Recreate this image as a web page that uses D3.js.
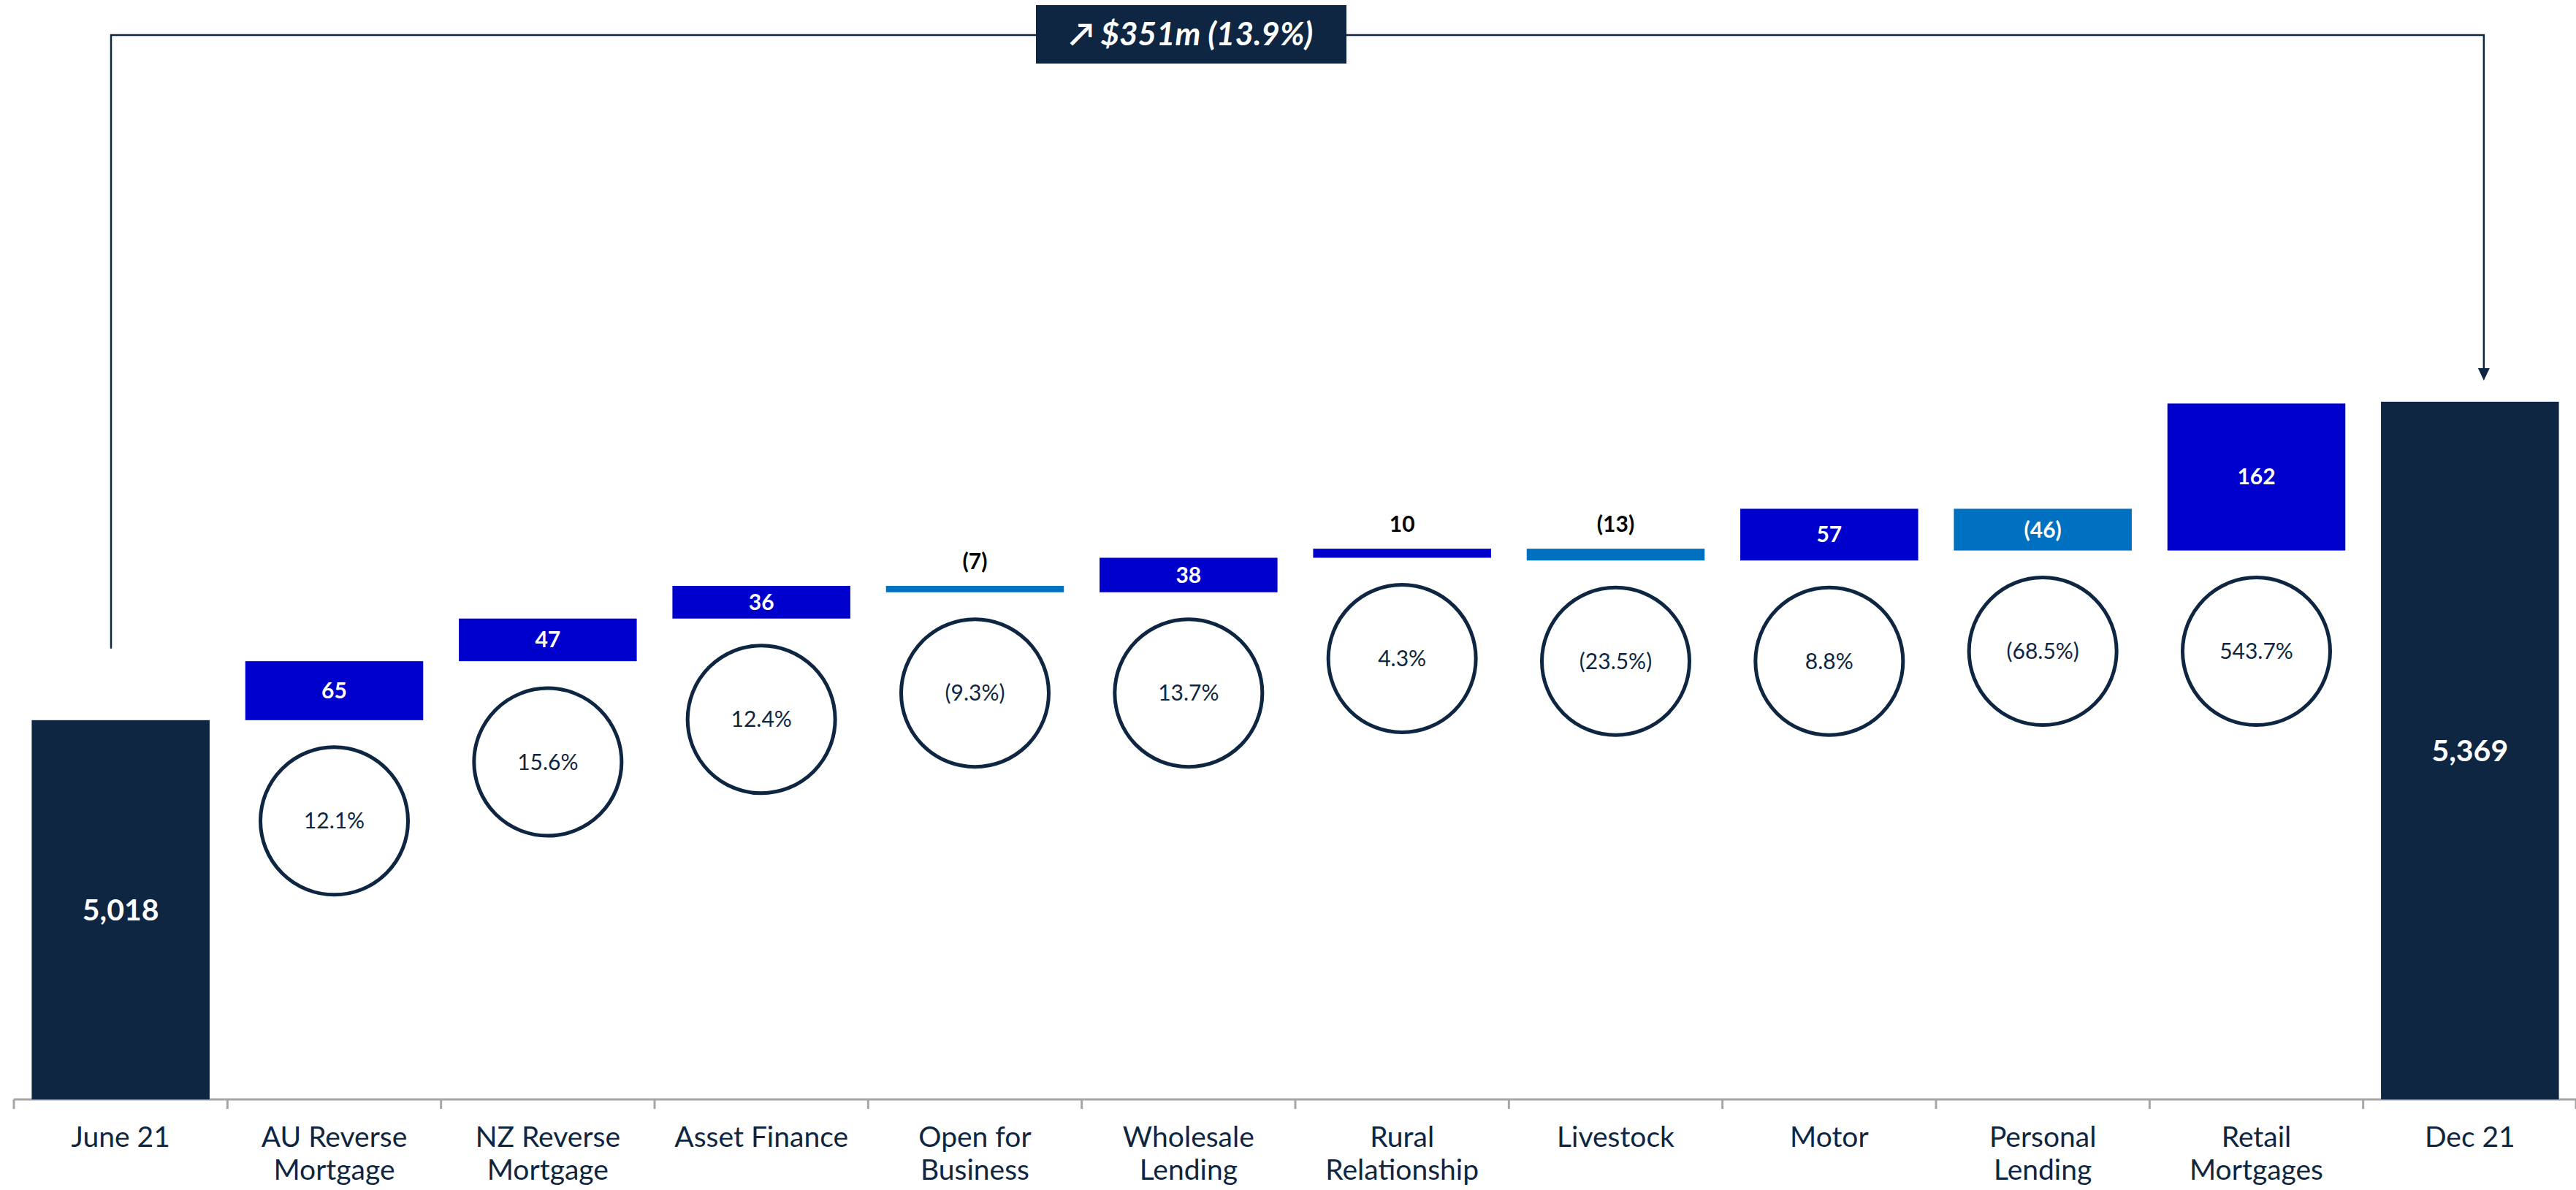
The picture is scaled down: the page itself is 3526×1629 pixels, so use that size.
<!DOCTYPE html>
<html>
<head>
<meta charset="utf-8">
<script src="https://cdn.jsdelivr.net/npm/d3@7"></script>
<style>
  html, body { margin: 0; padding: 0; background: #ffffff; }
  svg { display: block; }
</style>
</head>
<body>
<svg id="chart" width="3526" height="1629"></svg>
<script>
// ---- data ----
const categories = ["June 21", "AU Reverse Mortgage", "NZ Reverse Mortgage", "Asset Finance",
  "Open for Business", "Wholesale Lending", "Rural Relationship", "Livestock", "Motor",
  "Personal Lending", "Retail Mortgages", "Dec 21"];
const labelLines = [["June 21"], ["AU Reverse", "Mortgage"], ["NZ Reverse", "Mortgage"], ["Asset Finance"],
  ["Open for", "Business"], ["Wholesale", "Lending"], ["Rural", "Relationship"], ["Livestock"], ["Motor"],
  ["Personal", "Lending"], ["Retail", "Mortgages"], ["Dec 21"]];
const startValue = 5018;
const endValue = 5369;
const changes = [65, 47, 36, -7, 38, 10, -13, 57, -46, 162];
const growthPct = ["12.1%", "15.6%", "12.4%", "(9.3%)", "13.7%", "4.3%", "(23.5%)", "8.8%", "(68.5%)", "543.7%"];
const totalChangeLabel = "\u2197 $351m (13.9%)";

// ---- styles ----
const NAVY = "#0E2641";
const UP = "#0000CC";
const DOWN = "#0070C0";
const FONT = "Lato, 'Open Sans', sans-serif";

const svg = d3.select("#chart");

const x = d3.scaleBand().domain(categories).range([19, 3527]).padding(0);
const barPad = 0.0835;
const bw = x.bandwidth() * (1 - 2 * barPad);
const bx = c => x(c) + x.bandwidth() * barPad;
const cx = c => x(c) + x.bandwidth() / 2;

const y = d3.scaleLinear().domain([4600, 5400]).range([1505, 1505 - 800 * 1.242]);

const fmt = v => v < 0 ? "(" + d3.format(",")(-v) + ")" : d3.format(",")(v);

// build waterfall rows
let cum = startValue;
const steps = changes.map((v, i) => {
  const from = cum; const to = cum + v; cum = to;
  return { cat: categories[i + 1], v, lo: Math.min(from, to), hi: Math.max(from, to), pct: growthPct[i] };
});

// ---- axis ----
const axisY = y(4600);
const axis = svg.append("g").attr("transform", `translate(0,${axisY})`);
axis.append("line").attr("x1", x.range()[0]).attr("x2", x.range()[1])
  .attr("stroke", "#A6A6A6").attr("stroke-width", 3);
const boundaries = categories.map(c => x(c)).concat([x.range()[1] - 1]);
axis.selectAll("line.tick").data(boundaries).join("line").attr("class", "tick")
  .attr("x1", d => d).attr("x2", d => d).attr("y1", 0).attr("y2", 13)
  .attr("stroke", "#A6A6A6").attr("stroke-width", 3);

const lbl = axis.selectAll("text.cat").data(categories).join("text").attr("class", "cat")
  .attr("x", d => cx(d)).attr("y", 65)
  .attr("text-anchor", "middle").attr("font-family", FONT).attr("font-size", 39)
  .attr("fill", NAVY);
lbl.each(function (d, i) {
  const t = d3.select(this);
  labelLines[i].forEach((ln, j) => {
    t.append("tspan").attr("x", cx(d)).attr("dy", j === 0 ? 0 : 45).text(ln);
  });
});

// ---- total bars ----
const totals = [{ cat: categories[0], v: startValue }, { cat: categories[11], v: endValue }];
svg.selectAll("rect.total").data(totals).join("rect").attr("class", "total")
  .attr("x", d => bx(d.cat)).attr("width", bw)
  .attr("y", d => y(d.v)).attr("height", d => y(4600) - y(d.v))
  .attr("fill", NAVY);
svg.selectAll("text.total").data(totals).join("text").attr("class", "total")
  .attr("x", d => cx(d.cat)).attr("y", d => (y(d.v) + y(4600)) / 2)
  .attr("dy", "0.35em").attr("text-anchor", "middle")
  .attr("font-family", FONT).attr("font-weight", 700).attr("font-size", 41)
  .attr("fill", "#ffffff").text(d => fmt(d.v));

// ---- change bars ----
svg.selectAll("rect.step").data(steps).join("rect").attr("class", "step")
  .attr("x", d => bx(d.cat)).attr("width", bw)
  .attr("y", d => y(d.hi)).attr("height", d => y(d.lo) - y(d.hi))
  .attr("fill", d => d.v >= 0 ? UP : DOWN);

svg.selectAll("text.step").data(steps).join("text").attr("class", "step")
  .attr("x", d => cx(d.cat))
  .attr("y", d => (y(d.lo) - y(d.hi)) > 30 ? (y(d.hi) + y(d.lo)) / 2 : y(d.hi) - 34)
  .attr("dy", "0.35em").attr("text-anchor", "middle")
  .attr("font-family", FONT).attr("font-weight", 700).attr("font-size", 30)
  .attr("fill", d => (y(d.lo) - y(d.hi)) > 30 ? "#ffffff" : "#000000")
  .text(d => fmt(d.v));

// ---- growth circles ----
const circ = svg.selectAll("g.pct").data(steps).join("g").attr("class", "pct")
  .attr("transform", d => `translate(${cx(d.cat)},${y(d.lo) + 138})`);
circ.append("ellipse").attr("rx", 101).attr("ry", 101)
  .attr("fill", "#ffffff").attr("stroke", NAVY).attr("stroke-width", 5);
circ.append("text").attr("text-anchor", "middle").attr("dy", "0.35em")
  .attr("font-family", FONT).attr("font-size", 30).attr("fill", NAVY)
  .text(d => d.pct);

// ---- total change connector ----
const lineY = 48;
const leftX = 152;
const rightX = cx(categories[11]) + 19;
const boxL = 1418, boxR = 1843;
const conn = svg.append("g").attr("stroke", NAVY).attr("stroke-width", 2.5).attr("fill", "none");
conn.append("path").attr("d", `M${leftX},${y(startValue) - 98} V${lineY} H${boxL}`);
conn.append("path").attr("d", `M${boxR},${lineY} H${rightX} V${y(endValue) - 44}`);
svg.append("path")
  .attr("d", `M${rightX - 8},${y(endValue) - 46} L${rightX + 8},${y(endValue) - 46} L${rightX},${y(endValue) - 29} Z`)
  .attr("fill", NAVY);

svg.append("rect").attr("x", boxL).attr("y", 7).attr("width", boxR - boxL).attr("height", 80)
  .attr("fill", NAVY);
svg.append("text").attr("x", (boxL + boxR) / 2).attr("y", 47).attr("dy", "0.35em")
  .attr("text-anchor", "middle").attr("font-family", FONT).attr("font-style", "italic")
  .attr("font-weight", 700).attr("font-size", 44).attr("fill", "#ffffff")
  .text(totalChangeLabel);
</script>
</body>
</html>
